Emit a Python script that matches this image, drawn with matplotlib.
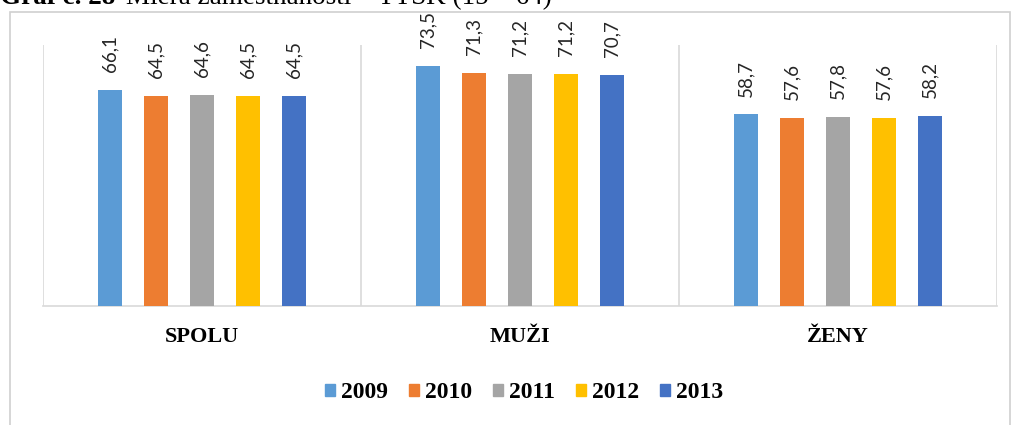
import matplotlib
matplotlib.use("Agg")
import matplotlib.pyplot as plt
from matplotlib.patches import Rectangle
import numpy as np

categories = ["SPOLU", "MUŽI", "ŽENY"]
years = ["2009", "2010", "2011", "2012", "2013"]
values = {
    "2009": [66.1, 73.5, 58.7],
    "2010": [64.5, 71.3, 57.6],
    "2011": [64.6, 71.2, 57.8],
    "2012": [64.5, 71.2, 57.6],
    "2013": [64.5, 70.7, 58.2],
}
colors = ["#5B9BD5", "#ED7D31", "#A5A5A5", "#FFC000", "#4472C4"]

W, H = 1018, 425
fig = plt.figure(figsize=(W / 100, H / 100), dpi=100)
serif = ["Liberation Serif", "DejaVu Serif"]
sans = ["Lato", "DejaVu Sans"]

# outer frame
fig.patches.append(Rectangle((10 / W, -0.1), (1010 - 10) / W, 1.1 - 12 / H,
                             transform=fig.transFigure, fill=False,
                             edgecolor="#D0D0D0", linewidth=1.2))

# cropped title
fig.text(0.0, 1 - 4 / H, "Graf č. 28", fontfamily=serif, fontsize=19.5,
         fontweight="bold", va="baseline", ha="left")
fig.text(126 / W, 1 - 4 / H, "Miera zamestnanosti – TTSK (15 – 64)",
         fontfamily=serif, fontsize=19.5, va="baseline", ha="left")

ax = fig.add_axes([43 / W, 1 - 306 / H, (997 - 43) / W, (306 - 45) / H])
x = np.arange(len(categories))
bw = 0.0755
pitch = 0.1447
for i, (yr, c) in enumerate(zip(years, colors)):
    xs = x + (i - 2) * pitch
    ax.bar(xs, values[yr], width=bw, color=c, zorder=3)
    for xi, v in zip(xs, values[yr]):
        ax.text(xi, v + 5.5, f"{v:.1f}".replace(".", ","), rotation=90,
                ha="center", va="bottom", fontfamily=sans, fontsize=13.5,
                color="#262626")

ax.set_xlim(-0.5, 2.5)
ax.set_ylim(0, 80)
ax.set_yticks([])
ax.set_xticks(x)
ax.set_xticklabels(categories, fontfamily=serif, fontsize=16, fontweight="bold")
ax.tick_params(axis="x", length=0, pad=15)
for s in ["top", "right", "left"]:
    ax.spines[s].set_visible(False)
ax.spines["bottom"].set_color("#D9D9D9")
ax.spines["bottom"].set_linewidth(1.2)
for b in [-0.5, 0.5, 1.5, 2.5]:
    ax.axvline(b, color="#D9D9D9", linewidth=1.2, zorder=1)

handles = [Rectangle((0, 0), 1, 1, color=c) for c in colors]
fig.legend(handles, years, loc="center", bbox_to_anchor=(524 / W, 1 - 393 / H),
           ncol=5, frameon=False, handlelength=0.42, handleheight=0.42,
           handletextpad=0.25, columnspacing=0.9,
           prop={"family": serif, "size": 17, "weight": "bold"})

fig.savefig("out.png", dpi=100)
